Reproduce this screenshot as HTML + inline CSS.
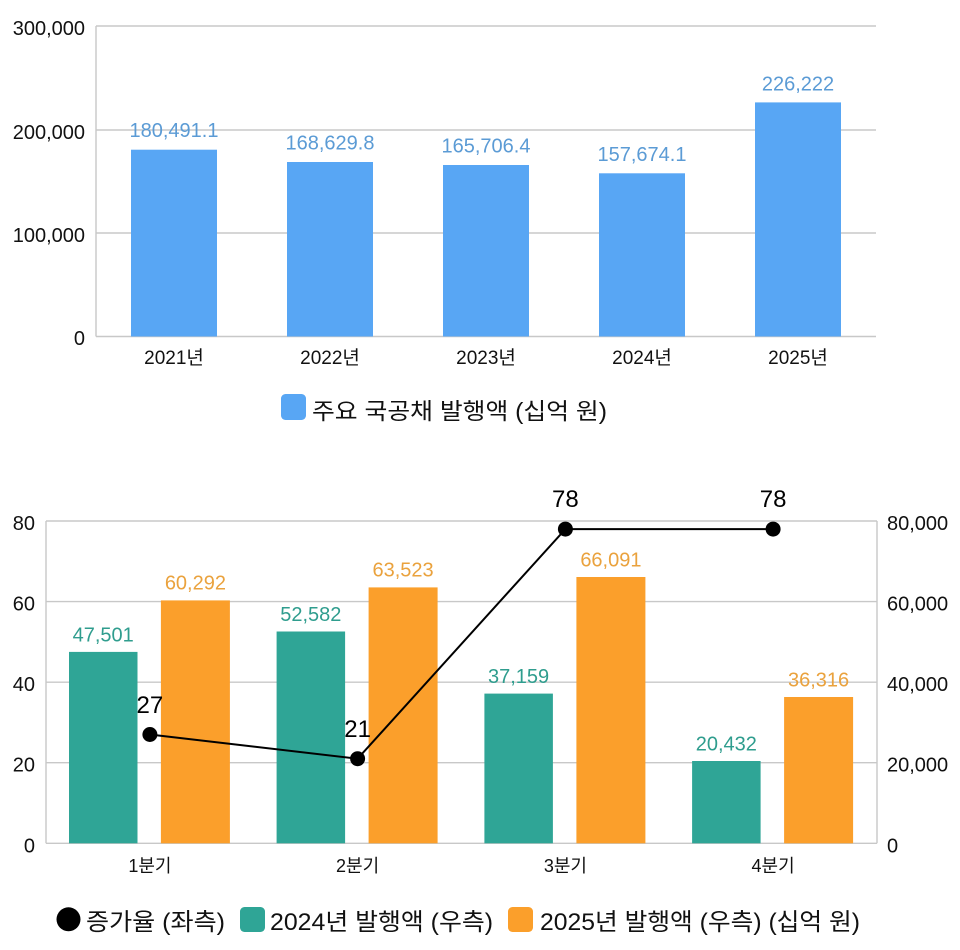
<!DOCTYPE html>
<html>
<head>
<meta charset="utf-8">
<style>
  html,body{margin:0;padding:0;background:#fff;}
  svg{display:block;}
  text{font-family:"Liberation Sans","Noto Sans CJK KR",sans-serif;}
</style>
</head>
<body>
<svg width="960" height="950" viewBox="0 0 960 950" xmlns="http://www.w3.org/2000/svg">
  <rect x="0" y="0" width="960" height="950" fill="#fff"/>

  <!-- ===== TOP CHART ===== -->
  <g stroke="#c8c8c8" stroke-width="1.4" fill="none">
    <line x1="96" y1="26" x2="876" y2="26"/>
    <line x1="96" y1="130" x2="876" y2="130"/>
    <line x1="96" y1="233" x2="876" y2="233"/>
    <line x1="96" y1="336.5" x2="876" y2="336.5"/>
    <line x1="96" y1="26" x2="96" y2="336.5"/>
  </g>
  <g font-size="20" fill="#111" text-anchor="end">
    <text x="85" y="35">300,000</text>
    <text x="85" y="139">200,000</text>
    <text x="85" y="242">100,000</text>
    <text x="85" y="345">0</text>
  </g>
  <!-- bars: y0=336.5, 103.5px per 100k -->
  <g fill="#58a6f4">
    <rect x="131" y="149.7" width="86" height="186.8"/>
    <rect x="287" y="162.0" width="86" height="174.5"/>
    <rect x="443" y="165.0" width="86" height="171.5"/>
    <rect x="599" y="173.3" width="86" height="163.2"/>
    <rect x="755" y="102.4" width="86" height="234.1"/>
  </g>
  <g font-size="20" fill="#5b9bd5" text-anchor="middle">
    <text x="174" y="137">180,491.1</text>
    <text x="330" y="149.5">168,629.8</text>
    <text x="486" y="152.5">165,706.4</text>
    <text x="642" y="161">157,674.1</text>
    <text x="798" y="90.5">226,222</text>
  </g>
  <g font-size="19" fill="#111" text-anchor="middle">
    <text x="174" y="364">2021년</text>
    <text x="330" y="364">2022년</text>
    <text x="486" y="364">2023년</text>
    <text x="642" y="364">2024년</text>
    <text x="798" y="364">2025년</text>
  </g>
  <!-- top legend -->
  <rect x="281" y="394" width="25" height="26" rx="4.5" fill="#58a6f4"/>
  <text x="312" y="419" font-size="23" fill="#111" textLength="295" lengthAdjust="spacingAndGlyphs">주요 국공채 발행액 (십억 원)</text>

  <!-- ===== BOTTOM CHART ===== -->
  <g stroke="#c8c8c8" stroke-width="1.4" fill="none">
    <line x1="46" y1="521" x2="877" y2="521"/>
    <line x1="46" y1="601.6" x2="877" y2="601.6"/>
    <line x1="46" y1="682.2" x2="877" y2="682.2"/>
    <line x1="46" y1="762.7" x2="877" y2="762.7"/>
    <line x1="46" y1="843.3" x2="877" y2="843.3"/>
    <line x1="46" y1="521" x2="46" y2="843.3"/>
    <line x1="877" y1="521" x2="877" y2="843.3"/>
  </g>
  <g font-size="20" fill="#111" text-anchor="end">
    <text x="35" y="530">80</text>
    <text x="35" y="610.6">60</text>
    <text x="35" y="691.2">40</text>
    <text x="35" y="771.7">20</text>
    <text x="35" y="852.3">0</text>
  </g>
  <g font-size="20" fill="#111" text-anchor="start">
    <text x="887" y="530">80,000</text>
    <text x="887" y="610.6">60,000</text>
    <text x="887" y="691.2">40,000</text>
    <text x="887" y="771.7">20,000</text>
    <text x="887" y="852.3">0</text>
  </g>
  <!-- bars: y0=843.3, 322.3px per 80,000 -->
  <g fill="#2fa596">
    <rect x="69" y="651.9" width="68.5" height="191.4"/>
    <rect x="276.6" y="631.5" width="68.5" height="211.8"/>
    <rect x="484.4" y="693.6" width="68.5" height="149.7"/>
    <rect x="692.1" y="761.0" width="68.5" height="82.3"/>
  </g>
  <g fill="#fb9f2b">
    <rect x="160.9" y="600.4" width="69" height="242.9"/>
    <rect x="368.6" y="587.4" width="69" height="255.9"/>
    <rect x="576.4" y="577.0" width="69" height="266.3"/>
    <rect x="784.1" y="697.0" width="69" height="146.3"/>
  </g>
  <g font-size="20" fill="#2f9d8e" text-anchor="middle">
    <text x="103.2" y="641.3">47,501</text>
    <text x="310.8" y="620.9">52,582</text>
    <text x="518.6" y="683">37,159</text>
    <text x="726.3" y="750.4">20,432</text>
  </g>
  <g font-size="20" fill="#eaa23d" text-anchor="middle">
    <text x="195.4" y="589.7">60,292</text>
    <text x="403.1" y="576.7">63,523</text>
    <text x="610.9" y="566.3">66,091</text>
    <text x="818.6" y="686.3">36,316</text>
  </g>
  <!-- line series -->
  <polyline points="149.9,734.5 357.6,758.7 565.4,529.1 773.1,529.1" fill="none" stroke="#000" stroke-width="2"/>
  <g fill="#000">
    <circle cx="149.9" cy="734.5" r="7.5"/>
    <circle cx="357.6" cy="758.7" r="7.5"/>
    <circle cx="565.4" cy="529.1" r="7.5"/>
    <circle cx="773.1" cy="529.1" r="7.5"/>
  </g>
  <g font-size="24" fill="#000" text-anchor="middle">
    <text x="149.9" y="713">27</text>
    <text x="357.6" y="737">21</text>
    <text x="565.4" y="507">78</text>
    <text x="773.1" y="507">78</text>
  </g>
  <g font-size="18" fill="#111" text-anchor="middle">
    <text x="149.9" y="872">1분기</text>
    <text x="357.6" y="872">2분기</text>
    <text x="565.4" y="872">3분기</text>
    <text x="773.1" y="872">4분기</text>
  </g>
  <!-- bottom legend -->
  <circle cx="68.5" cy="919.3" r="12" fill="#000"/>
  <text x="86" y="930" font-size="24" fill="#111" textLength="139" lengthAdjust="spacingAndGlyphs">증가율 (좌측)</text>
  <rect x="240" y="907" width="25" height="25" rx="4.5" fill="#2fa596"/>
  <text x="270" y="930" font-size="24" fill="#111" textLength="223" lengthAdjust="spacingAndGlyphs">2024년 발행액 (우측)</text>
  <rect x="508" y="907" width="25" height="25" rx="4.5" fill="#fb9f2b"/>
  <text x="540" y="930" font-size="24" fill="#111" textLength="320" lengthAdjust="spacingAndGlyphs">2025년 발행액 (우측) (십억 원)</text>
</svg>
</body>
</html>
